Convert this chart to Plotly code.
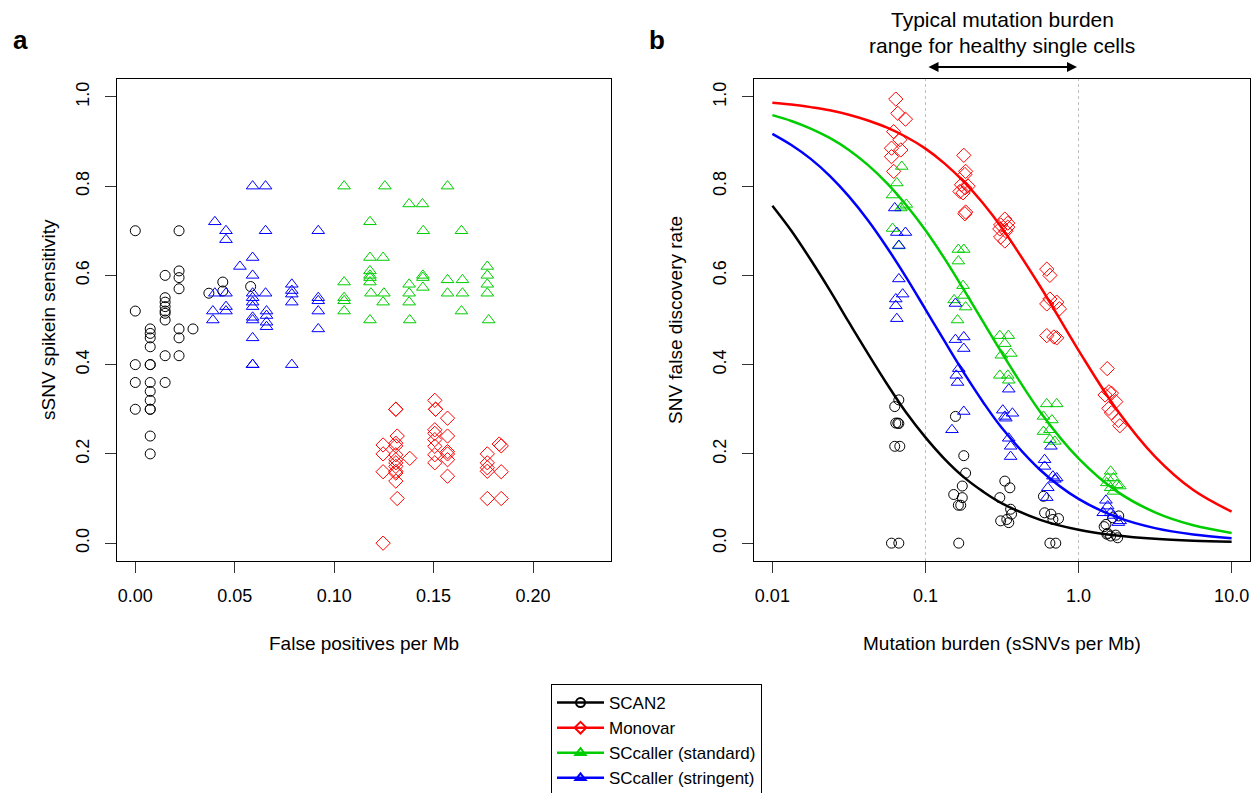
import plotly.graph_objects as go

# ---------------- Panel a data: false positives per Mb vs sSNV spike-in sensitivity
scan2_fp = [0.000, 0.022, 0.000, 0.015, 0.022, 0.022, 0.022, 0.044, 0.044, 0.037, 0.058,
            0.015, 0.015, 0.015, 0.015, 0.015, 0.015, 0.0075, 0.0075, 0.0075, 0.0075,
            0.022, 0.022, 0.029, 0.015, 0.022, 0.000, 0.0075, 0.0075, 0.000, 0.0075,
            0.015, 0.0075, 0.0075, 0.000, 0.0075, 0.0075, 0.0075, 0.0075]
scan2_sens = [0.70, 0.70, 0.52, 0.60, 0.61, 0.595, 0.57, 0.585, 0.565, 0.56, 0.575,
              0.55, 0.54, 0.53, 0.52, 0.515, 0.50, 0.48, 0.47, 0.46, 0.44,
              0.48, 0.46, 0.48, 0.42, 0.42, 0.40, 0.40, 0.40, 0.36, 0.36,
              0.36, 0.34, 0.32, 0.30, 0.30, 0.30, 0.24, 0.20]

monovar_fp = [0.1506, 0.131, 0.131, 0.151, 0.151, 0.157, 0.1317, 0.157, 0.1506, 0.1506,
              0.1506, 0.1506, 0.1506, 0.1506, 0.1246, 0.1246, 0.1246, 0.131, 0.131, 0.131,
              0.131, 0.131, 0.131, 0.131, 0.131, 0.131, 0.138, 0.157, 0.157, 0.157,
              0.157, 0.183, 0.184, 0.177, 0.177, 0.177, 0.177, 0.184, 0.1317, 0.177,
              0.184, 0.1246]
monovar_sens = [0.32, 0.30, 0.30, 0.30, 0.30, 0.28, 0.24, 0.24, 0.254, 0.246,
                0.232, 0.217, 0.198, 0.18, 0.22, 0.20, 0.16, 0.224, 0.218, 0.198,
                0.187, 0.18, 0.172, 0.161, 0.157, 0.139, 0.19, 0.205, 0.20, 0.187,
                0.15, 0.222, 0.218, 0.20, 0.18, 0.169, 0.161, 0.16, 0.10, 0.10,
                0.10, 0.0]

sc_std_fp = [0.105, 0.1255, 0.157, 0.1377, 0.1444, 0.118, 0.1448, 0.164, 0.118, 0.1246,
             0.177, 0.177, 0.177, 0.177, 0.118, 0.118, 0.118, 0.118, 0.105, 0.1446,
             0.1446, 0.1446, 0.1377, 0.1377, 0.1377, 0.157, 0.157, 0.1645, 0.1645, 0.1185,
             0.125, 0.1246, 0.105, 0.105, 0.105, 0.118, 0.138, 0.164, 0.1777]
sc_std_sens = [0.80, 0.80, 0.80, 0.76, 0.76, 0.72, 0.70, 0.70, 0.64, 0.64,
               0.62, 0.60, 0.58, 0.56, 0.61, 0.60, 0.595, 0.585, 0.585, 0.60,
               0.595, 0.573, 0.58, 0.56, 0.54, 0.59, 0.56, 0.59, 0.56, 0.56,
               0.56, 0.54, 0.55, 0.543, 0.52, 0.50, 0.50, 0.52, 0.50]

sc_str_fp = [0.059, 0.0655, 0.040, 0.0456, 0.0456, 0.0655, 0.092, 0.059, 0.0526, 0.059,
             0.040, 0.0456, 0.059, 0.059, 0.0655, 0.0787, 0.0787, 0.0787, 0.0787, 0.092,
             0.092, 0.092, 0.092, 0.039, 0.039, 0.0456, 0.0456, 0.059, 0.059, 0.059,
             0.059, 0.066, 0.066, 0.066, 0.066, 0.059, 0.059, 0.059, 0.0787]
sc_str_sens = [0.80, 0.80, 0.72, 0.70, 0.68, 0.70, 0.70, 0.64, 0.62, 0.60,
               0.56, 0.56, 0.56, 0.55, 0.56, 0.58, 0.566, 0.558, 0.54, 0.55,
               0.543, 0.52, 0.48, 0.52, 0.50, 0.53, 0.52, 0.54, 0.53, 0.506,
               0.50, 0.52, 0.51, 0.495, 0.485, 0.46, 0.40, 0.40, 0.40]

# ---------------- Panel b data: mutation burden vs SNV false discovery rate
scan2_burden = [0.067, 0.063, 0.064, 0.066, 0.067, 0.063, 0.068, 0.060, 0.067,
                0.157, 0.178, 0.183, 0.174, 0.153, 0.174, 0.164, 0.170, 0.165,
                0.33, 0.356, 0.306, 0.36, 0.365, 0.31, 0.34, 0.35,
                0.59, 0.60, 0.66, 0.68, 0.74, 0.65, 0.71,
                1.83, 1.67, 1.51, 1.47, 1.55, 1.75, 1.62, 1.53, 1.80]
scan2_fdr = [0.321, 0.306, 0.269, 0.269, 0.268, 0.217, 0.217, 0.0, 0.0,
             0.284, 0.196, 0.157, 0.128, 0.109, 0.102, 0.085, 0.085, 0.0,
             0.139, 0.124, 0.102, 0.076, 0.065, 0.05, 0.053, 0.046,
             0.105, 0.068, 0.065, 0.053, 0.055, 0.0, 0.0,
             0.061, 0.057, 0.042, 0.037, 0.022, 0.018, 0.016, 0.020, 0.012]

monovar_burden = [0.064, 0.066, 0.074, 0.062, 0.068, 0.069, 0.060, 0.060, 0.062,
                  0.178, 0.183, 0.181, 0.172, 0.181, 0.190, 0.168, 0.176, 0.183, 0.181,
                  0.33, 0.31, 0.345, 0.306, 0.335, 0.31, 0.33, 0.345,
                  0.62, 0.65, 0.65, 0.62, 0.72, 0.75, 0.62, 0.69, 0.72,
                  1.54, 1.58, 1.49, 1.64, 1.75, 1.58, 1.64, 1.82, 1.86]
monovar_fdr = [0.995, 0.963, 0.950, 0.922, 0.904, 0.881, 0.885, 0.866, 0.833,
               0.869, 0.833, 0.826, 0.803, 0.796, 0.80, 0.788, 0.785, 0.742, 0.738,
               0.726, 0.713, 0.717, 0.704, 0.699, 0.686, 0.677, 0.708,
               0.614, 0.60, 0.547, 0.536, 0.54, 0.525, 0.465, 0.462, 0.46,
               0.391, 0.339, 0.332, 0.336, 0.317, 0.302, 0.292, 0.275, 0.263]

sc_std_burden = [0.070, 0.065, 0.061, 0.071, 0.075, 0.069, 0.061, 0.067,
                 0.164, 0.178, 0.164, 0.176, 0.178, 0.154, 0.183, 0.162,
                 0.306, 0.348, 0.33, 0.313, 0.361, 0.306, 0.345, 0.35,
                 0.62, 0.72, 0.59, 0.67, 0.59, 0.65, 0.70, 0.65,
                 1.62, 1.55, 1.69, 1.53, 1.78, 1.86, 1.62, 1.69]
sc_std_fdr = [0.844, 0.807, 0.78, 0.755, 0.759, 0.751, 0.705, 0.666,
              0.658, 0.658, 0.632, 0.577, 0.555, 0.545, 0.529, 0.50,
              0.465, 0.465, 0.447, 0.421, 0.425, 0.376, 0.376, 0.365,
              0.312, 0.312, 0.284, 0.276, 0.25, 0.254, 0.228, 0.232,
              0.161, 0.146, 0.146, 0.135, 0.131, 0.128, 0.124, 0.116]

sc_str_burden = [0.063, 0.065, 0.074, 0.067, 0.067, 0.071, 0.064, 0.064, 0.065,
                 0.157, 0.157, 0.178, 0.178, 0.165, 0.159, 0.162, 0.178, 0.149,
                 0.35, 0.32, 0.37, 0.33, 0.335, 0.35, 0.36, 0.36,
                 0.66, 0.60, 0.60, 0.68, 0.72, 0.70, 0.63, 0.62,
                 1.51, 1.55, 1.45, 1.62, 1.69, 1.87, 1.82]
sc_str_fdr = [0.751, 0.696, 0.696, 0.667, 0.592, 0.558, 0.547, 0.532, 0.503,
              0.537, 0.456, 0.462, 0.436, 0.391, 0.376, 0.36, 0.295, 0.254,
              0.345, 0.298, 0.291, 0.284, 0.28, 0.235, 0.217, 0.194,
              0.217, 0.187, 0.172, 0.15, 0.146, 0.143, 0.124, 0.102,
              0.096, 0.083, 0.068, 0.068, 0.062, 0.05, 0.046]

# Expected-FDR curves, values
curve_burden = [0.01, 0.0133, 0.0178, 0.0237, 0.0316, 0.0422, 0.0562, 0.075, 0.1, 0.133,
                0.178, 0.237, 0.316, 0.562, 1.0, 1.78, 3.16, 5.62, 10.0]
scan2_curve = [0.756, 0.700, 0.635, 0.567, 0.495, 0.424, 0.356, 0.292, 0.237, 0.189,
               0.148, 0.116, 0.0893, 0.0523, 0.0301, 0.0171, 0.0097, 0.0055, 0.0031]
monovar_curve = [0.987, 0.983, 0.977, 0.970, 0.960, 0.947, 0.931, 0.910, 0.884, 0.851,
                 0.810, 0.762, 0.706, 0.575, 0.432, 0.299, 0.194, 0.119, 0.0706]
sc_std_curve = [0.959, 0.946, 0.929, 0.908, 0.881, 0.847, 0.806, 0.757, 0.701, 0.638,
                0.568, 0.497, 0.426, 0.294, 0.190, 0.116, 0.069, 0.040, 0.0229]
sc_str_curve = [0.917, 0.892, 0.861, 0.823, 0.777, 0.723, 0.662, 0.595, 0.524, 0.453,
                0.382, 0.317, 0.258, 0.164, 0.0991, 0.0582, 0.0336, 0.0192, 0.0109]

healthy_range = [0.1, 1.0]

x_ticks_a = [0.0, 0.05, 0.10, 0.15, 0.20]
x_labels_a = ["0.00", "0.05", "0.10", "0.15", "0.20"]
y_ticks = [0.0, 0.2, 0.4, 0.6, 0.8, 1.0]
y_labels = ["0.0", "0.2", "0.4", "0.6", "0.8", "1.0"]
x_ticks_b = [0.01, 0.1, 1.0, 10.0]
x_labels_b = ["0.01", "0.1", "1.0", "10.0"]

methods = ["SCAN2", "Monovar", "SCcaller (standard)", "SCcaller (stringent)"]
colors = ["#000000", "#FF0000", "#00CD00", "#0000FF"]
symbols = ["circle-open", "diamond-open", "triangle-up-open", "triangle-up-open"]
sizes = [10, 11, 11, 11]

W, H = 1255, 793
FONT = "Liberation Sans, Arial, Helvetica, sans-serif"

def PX(p):
    return p / W

def PY(p):
    return 1 - p / H

fig = go.Figure()

# reference lines in panel b
for v in healthy_range:
    fig.add_trace(go.Scatter(x=[v, v], y=[-0.04, 1.04], mode="lines", xaxis="x2", yaxis="y2",
                             line=dict(color="#BEBEBE", width=1, dash="dot"),
                             showlegend=False, hoverinfo="skip"))

pa = [(scan2_fp, scan2_sens), (monovar_fp, monovar_sens), (sc_std_fp, sc_std_sens), (sc_str_fp, sc_str_sens)]
pb = [(scan2_burden, scan2_fdr), (monovar_burden, monovar_fdr), (sc_std_burden, sc_std_fdr), (sc_str_burden, sc_str_fdr)]
curves = [scan2_curve, monovar_curve, sc_std_curve, sc_str_curve]

order_a = [0, 3, 2, 1]
for i in order_a:
    xs, ys = pa[i]
    fig.add_trace(go.Scatter(x=xs, y=ys, mode="markers", xaxis="x", yaxis="y",
                             marker=dict(symbol=symbols[i], size=sizes[i], color=colors[i],
                                         line=dict(color=colors[i], width=1)),
                             showlegend=False, name=methods[i]))

for i in range(4):
    xs, ys = pb[i]
    fig.add_trace(go.Scatter(x=xs, y=ys, mode="markers", xaxis="x2", yaxis="y2",
                             marker=dict(symbol=symbols[i], size=sizes[i], color=colors[i],
                                         line=dict(color=colors[i], width=1)),
                             showlegend=False, name=methods[i]))

for i in range(4):
    fig.add_trace(go.Scatter(x=curve_burden, y=curves[i], mode="lines", xaxis="x2", yaxis="y2",
                             line=dict(color=colors[i], width=2.5, shape="spline"),
                             showlegend=False, name=methods[i]))

# legend entries
for i in range(4):
    fig.add_trace(go.Scatter(x=[None], y=[None], mode="lines+markers", xaxis="x", yaxis="y",
                             name=methods[i],
                             line=dict(color=colors[i], width=2.5),
                             marker=dict(symbol=symbols[i], size=9, color=colors[i],
                                         line=dict(color=colors[i], width=2))))

y_dom = [PY(561), PY(79)]
axis_common = dict(showline=True, mirror=True, linecolor="black", linewidth=1.2,
                   ticks="outside", ticklen=11, tickwidth=1, tickcolor="#333",
                   showgrid=False, zeroline=False,
                   tickfont=dict(family=FONT, size=18, color="black"))

fig.update_layout(
    width=W, height=H,
    margin=dict(l=0, r=0, t=0, b=0, autoexpand=False),
    paper_bgcolor="white", plot_bgcolor="white",
    font=dict(family=FONT, size=18, color="black"),
    xaxis=dict(domain=[PX(117), PX(611)], range=[-0.0092, 0.2392], anchor="y",
               tickvals=x_ticks_a, ticktext=x_labels_a, ticklabelstandoff=7, **axis_common),
    yaxis=dict(domain=y_dom, range=[-0.04, 1.04], anchor="x",
               tickvals=y_ticks, ticktext=y_labels, tickangle=-90, ticklabelstandoff=9, **axis_common),
    xaxis2=dict(domain=[PX(754), PX(1250)], type="log", range=[-2.12, 1.12], anchor="y2",
                tickvals=x_ticks_b, ticktext=x_labels_b, ticklabelstandoff=7, **axis_common),
    yaxis2=dict(domain=y_dom, range=[-0.04, 1.04], anchor="x2",
                tickvals=y_ticks, ticktext=y_labels, tickangle=-90, ticklabelstandoff=9, **axis_common),
    legend=dict(x=PX(551), y=PY(684), xanchor="left", yanchor="top",
                bordercolor="black", borderwidth=1, bgcolor="white",
                font=dict(family=FONT, size=17, color="black"),
                tracegroupgap=0, itemwidth=47),
    showlegend=True,
)

def ann(text, x, y, size=19, angle=0, bold=False, xanchor="center"):
    fig.add_annotation(text=("<b>%s</b>" % text) if bold else text,
                       x=PX(x), y=PY(y), xref="paper", yref="paper",
                       showarrow=False, textangle=angle, xanchor=xanchor, yanchor="middle",
                       font=dict(family=FONT, size=size, color="black"))

ann("False positives per Mb", 364, 643)
ann("Mutation burden (sSNVs per Mb)", 1002, 643)
ann("sSNV spikein sensitivity", 48, 320, angle=-90)
ann("SNV false discovery rate", 675, 320, angle=-90)
ann("a", 20, 40, size=26, bold=True)
ann("b", 657, 40, size=26, bold=True)
ann("Typical mutation burden", 1002, 19, size=21)
ann("range for healthy single cells", 1002, 46, size=21)

fig.add_annotation(x=PX(1077), y=PY(67), ax=-150, ay=0,
                   xref="paper", yref="paper", axref="pixel", ayref="pixel",
                   text="", showarrow=True, arrowhead=2, arrowside="end+start",
                   arrowsize=1, arrowwidth=2, arrowcolor="black", standoff=0, startstandoff=0)

# remove the default 8px page margin so the figure fills the 1255x793 window exactly
fig.write_html("out.html", config={"displayModeBar": False},
               post_script="document.body.style.margin='0';document.body.style.overflow='hidden';")
